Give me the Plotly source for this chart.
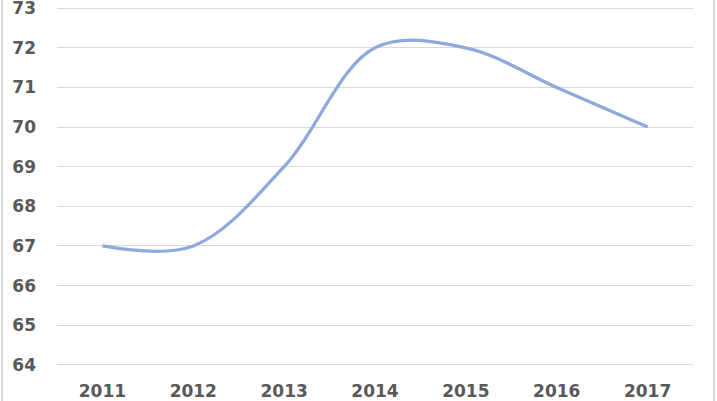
import plotly.graph_objects as go

years = ["2011", "2012", "2013", "2014", "2015", "2016", "2017"]
values = [67, 67, 69, 72, 72, 71, 70]
y_ticks = [64, 65, 66, 67, 68, 69, 70, 71, 72, 73]

fig = go.Figure()
fig.add_trace(go.Scatter(
    x=years, y=values, mode="lines",
    line=dict(color="#8EA9DB", width=3.3, shape="spline", smoothing=1.0),
    hoverinfo="skip",
))

font = dict(family="'DejaVu Sans', sans-serif", size=17, color="#595959", weight="bold")

fig.update_layout(
    width=717, height=401,
    margin=dict(l=57, r=24, t=7, b=35),
    paper_bgcolor="white", plot_bgcolor="white",
    showlegend=False,
    xaxis=dict(type="category", range=[-0.5, 6.5], showgrid=False, showline=False,
               ticks="", tickfont=font, ticklabelstandoff=13, automargin=False),
    yaxis=dict(range=[63.97, 73.03], tickvals=y_ticks, showgrid=True, gridcolor="#D9D9D9",
               gridwidth=1.3, zeroline=False, showline=False, ticks="", tickfont=font,
               ticklabelstandoff=20, automargin=False, ticklabeloverflow="allow"),
    shapes=[
        dict(type="line", xref="paper", yref="paper", x0=-55/636, x1=-55/636, y0=-1, y1=2,
             line=dict(color="#D9D9D9", width=2)),
        dict(type="line", xref="paper", yref="paper", x0=1 + 21/636, x1=1 + 21/636, y0=-1, y1=2,
             line=dict(color="#D9D9D9", width=2)),
    ],
)

fig.write_html("out.html", config={"displayModeBar": False},
               post_script="document.body.style.margin='0';")
